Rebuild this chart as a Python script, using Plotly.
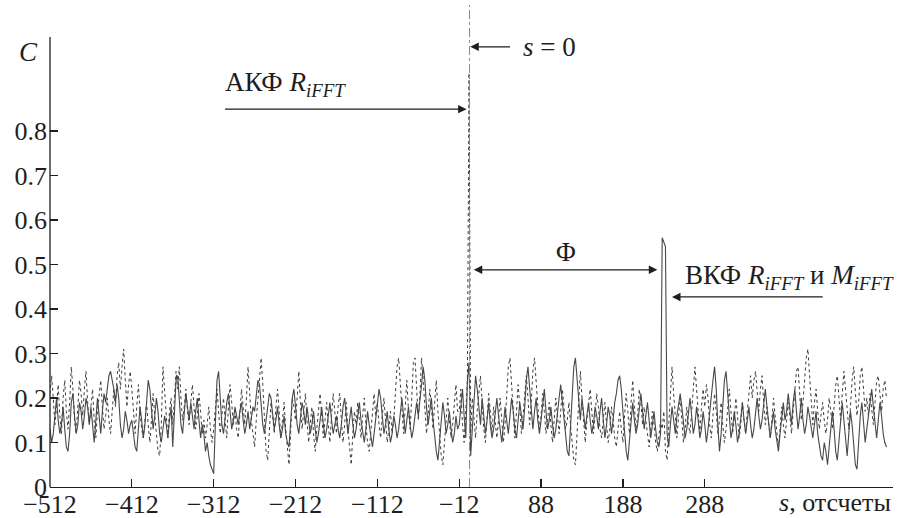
import plotly.graph_objects as go

# --- data (values in hundredths of C), sampled every 2 lags ---
s_start, s_step = -512, 2
solid_pct = [
    13,10,12,17,20,15,12,14,18,13,9,8,12,19,21,16,12,14,19,17,13,16,20,18,14,
    18,13,10,15,20,16,12,17,21,19,22,25,26,24,22,19,23,20,14,11,13,17,15,12,14,
    15,12,9,8,13,18,15,11,14,19,24,22,17,13,16,20,17,12,10,13,16,14,11,15,18,
    9,16,24,25,19,14,12,17,21,18,15,19,16,13,17,20,15,11,14,12,8,10,7,5,4,
    3,14,24,26,20,14,12,16,19,21,17,13,15,18,16,14,17,19,15,12,14,17,13,16,18,
    17,21,24,23,18,14,12,15,19,21,20,16,13,15,18,14,11,13,16,12,10,9,14,20,22,
    18,14,12,16,19,17,14,18,15,12,14,17,13,10,12,15,18,14,11,13,16,19,15,12,14,
    16,13,11,14,18,20,16,12,15,18,14,11,13,16,19,15,12,10,13,17,14,11,9,12,15,
    18,22,20,15,12,14,17,13,10,12,16,14,11,13,17,20,16,12,15,18,14,11,13,16,19,
    16,19,23,27,24,18,14,17,20,15,11,8,6,10,15,19,16,12,14,17,13,10,12,16,13,
    14,18,22,16,11,24,28,7,13,19,25,22,17,14,20,16,12,15,19,14,11,13,17,20,16,
    13,10,14,18,15,12,16,20,17,13,11,15,19,16,13,18,24,27,22,16,13,17,20,15,12,
    15,19,22,17,13,15,18,14,11,13,17,20,23,19,15,12,8,7,13,21,27,29,24,18,15,
    20,17,13,16,19,15,12,14,18,16,13,17,20,15,11,14,18,16,12,15,19,21,24,25,22,
    17,12,8,6,11,16,19,15,12,14,18,21,17,13,16,19,15,11,14,17,13,10,9,12,56,
    55,54,12,9,14,18,15,12,16,19,21,18,14,11,13,17,20,16,12,14,18,15,11,13,17,
    14,10,13,17,21,24,27,22,14,8,12,19,24,26,21,15,11,13,17,14,10,12,16,19,15,
    12,15,18,14,11,13,17,20,16,13,15,19,22,18,14,11,14,17,13,10,8,12,16,19,15,
    17,21,18,14,19,22,17,13,16,20,15,12,14,18,16,13,11,14,17,12,9,7,6,10,8,
    5,9,14,17,13,8,6,11,16,19,15,10,7,12,17,14,9,5,4,10,16,19,14,10,13,
    16,19,22,18,14,11,15,19,16,12,10,9,
]
dotted_pct = [
    21,25,20,14,18,23,16,12,20,24,17,13,19,27,22,15,12,18,24,21,16,22,26,19,14,
    18,22,15,11,17,21,24,18,13,16,20,15,12,17,22,18,25,28,22,27,31,24,18,23,26,
    22,16,12,18,23,17,13,11,15,19,14,10,15,21,16,11,8,7,14,27,22,15,11,17,20,
    14,20,26,22,27,20,15,18,22,17,14,19,23,18,13,16,21,17,12,15,11,14,18,13,10,
    13,18,22,17,12,16,20,15,11,18,23,19,14,17,13,11,16,22,18,14,20,27,21,15,12,
    9,15,20,24,29,23,15,8,6,13,19,16,12,18,22,17,11,15,19,13,8,5,12,20,18,
    15,20,26,19,13,17,21,15,10,14,18,12,8,13,17,21,16,11,15,19,14,10,16,21,17,
    12,18,21,15,10,14,19,13,8,5,12,17,14,19,15,11,16,20,14,10,8,12,17,21,16,
    19,14,11,16,20,15,10,13,17,12,15,21,27,29,23,16,12,18,24,17,13,20,28,29,22,
    15,21,29,24,17,12,16,22,18,13,19,24,17,11,7,5,10,16,20,15,11,14,19,23,17,
    17,22,14,10,18,24,93,12,20,15,11,17,22,25,19,13,10,16,21,17,12,18,14,11,15,
    20,15,10,14,21,27,29,22,15,11,17,23,18,12,16,21,25,20,14,19,26,29,23,17,13,
    16,21,17,12,15,19,14,10,15,20,16,12,17,22,18,13,15,19,14,9,6,5,12,20,26,
    20,14,10,15,19,22,17,12,16,21,18,13,11,15,19,14,10,13,18,15,11,9,14,17,13,
    10,16,21,17,12,19,24,18,13,16,22,19,14,18,15,11,9,13,17,14,10,8,12,15,13,
    17,8,6,14,22,27,21,15,11,16,20,15,10,13,18,14,12,17,23,27,22,16,12,18,22,
    18,23,20,14,11,16,21,17,12,15,19,14,10,13,18,22,17,12,15,20,16,11,14,19,15,
    12,17,22,25,20,24,26,21,17,22,25,19,14,18,15,11,15,20,16,12,9,13,18,14,11,
    15,19,16,12,17,22,26,27,20,15,19,24,29,31,25,18,14,19,22,17,13,16,19,15,12,
    15,20,17,13,18,23,25,20,15,21,26,22,17,13,18,24,27,21,16,19,25,27,22,17,20,
    16,21,18,14,19,24,25,21,17,22,24,20,
]
assert len(solid_pct) == 512 and len(dotted_pct) == 512

s_vals = [s_start + s_step * i for i in range(len(solid_pct))]
solid = [v / 100 for v in solid_pct]
dotted = [v / 100 for v in dotted_pct]

x_tick_vals = [-512, -412, -312, -212, -112, -12, 88, 188, 288]
x_tick_text = ["\u2212512", "\u2212412", "\u2212312", "\u2212212", "\u2212112", "\u221212", "88", "188", "288"]
y_tick_vals = [0, 0.1, 0.2, 0.3, 0.4, 0.5, 0.6, 0.7, 0.8]
y_tick_text = ["0", "0.1", "0.2", "0.3", "0.4", "0.5", "0.6", "0.7", "0.8"]

FONT = "Liberation Serif"
FS = 26
FA = 27
INK = "#1e1e1e"

fig = go.Figure()
fig.add_trace(go.Scatter(x=s_vals, y=dotted, mode="lines",
                         line=dict(color="#3c3c3c", width=1, dash="dot"),
                         showlegend=False, hoverinfo="skip"))
fig.add_trace(go.Scatter(x=s_vals, y=solid, mode="lines",
                         line=dict(color="#484848", width=1.1),
                         showlegend=False, hoverinfo="skip"))

# s = 0 dash-dot marker line
fig.add_shape(type="line", xref="x", yref="y", x0=0.6, x1=0.6, y0=0, y1=1.083,
              line=dict(color="#8a8a8a", width=1, dash="dashdot"))
# y axis line (shorter than plotting area)
fig.add_shape(type="line", xref="paper", yref="y", x0=0, x1=0, y0=0, y1=1.011,
              line=dict(color=INK, width=1.3))

arrow = dict(showarrow=True, arrowhead=2, arrowsize=1.3, arrowwidth=1.3,
             arrowcolor=INK, text="", axref="x", ayref="y", xref="x", yref="y")
annots = [
    dict(x=-3, y=0.849, ax=-300, ay=0.849, **arrow),
    dict(x=1.5, y=0.989, ax=52, ay=0.989, **arrow),
    dict(x=230, y=0.488, ax=4, ay=0.488, arrowside="end+start", **arrow),
    dict(x=248, y=0.427, ax=434, ay=0.427, **arrow),
]
tfont = dict(family=FONT, size=FA, color=INK)
annots += [
    dict(x=-301, y=0.905, xref="x", yref="y", xanchor="left", yanchor="middle",
         text="АКФ <i>R</i><sub><i>iFFT</i></sub>", showarrow=False, font=tfont),
    dict(x=64, y=0.989, xref="x", yref="y", xanchor="left", yanchor="middle",
         text="<i>s</i> = 0", showarrow=False, font=tfont),
    dict(x=119, y=0.528, xref="x", yref="y", xanchor="center", yanchor="middle",
         text="Φ", showarrow=False, font=tfont),
    dict(x=262, y=0.472, xref="x", yref="y", xanchor="left", yanchor="middle",
         text="ВКФ <i>R</i><sub><i>iFFT</i></sub> и <i>M</i><sub><i>iFFT</i></sub>",
         showarrow=False, font=tfont),
    dict(x=-0.012, y=0.978, xref="paper", yref="y", xanchor="right", yanchor="middle",
         text="<i>C</i>", showarrow=False, font=tfont),
    dict(x=1.0, y=-0.033, xref="paper", yref="paper", xanchor="right", yanchor="middle",
         text="<i>s</i>, отсчеты", showarrow=False, font=dict(family=FONT, size=FS, color=INK)),
]
fig.update_layout(annotations=annots)

fig.update_layout(
    width=897, height=518,
    margin=dict(l=50, r=4, t=5, b=31, autoexpand=False),
    paper_bgcolor="white", plot_bgcolor="white",
    font=dict(family=FONT, size=FS, color=INK),
    xaxis=dict(range=[-512, 518], tickvals=x_tick_vals, ticktext=x_tick_text,
               ticks="inside", ticklen=8, tickwidth=1.3, tickcolor=INK,
               ticklabelstandoff=-7, automargin=False,
               showline=True, linecolor=INK, linewidth=1.3,
               showgrid=False, zeroline=False, fixedrange=True),
    yaxis=dict(range=[0, 1.083], tickvals=y_tick_vals, ticktext=y_tick_text,
               ticks="inside", ticklen=8, tickwidth=1.3, tickcolor=INK,
               ticklabelstandoff=2, automargin=False,
               showline=False, showgrid=False, zeroline=False, fixedrange=True),
)

fig.write_html(
    "out.html",
    config={"displayModeBar": False, "staticPlot": True},
    post_script="document.body.style.margin='0';document.body.style.padding='0';"
                "document.body.style.overflow='hidden';",
)
